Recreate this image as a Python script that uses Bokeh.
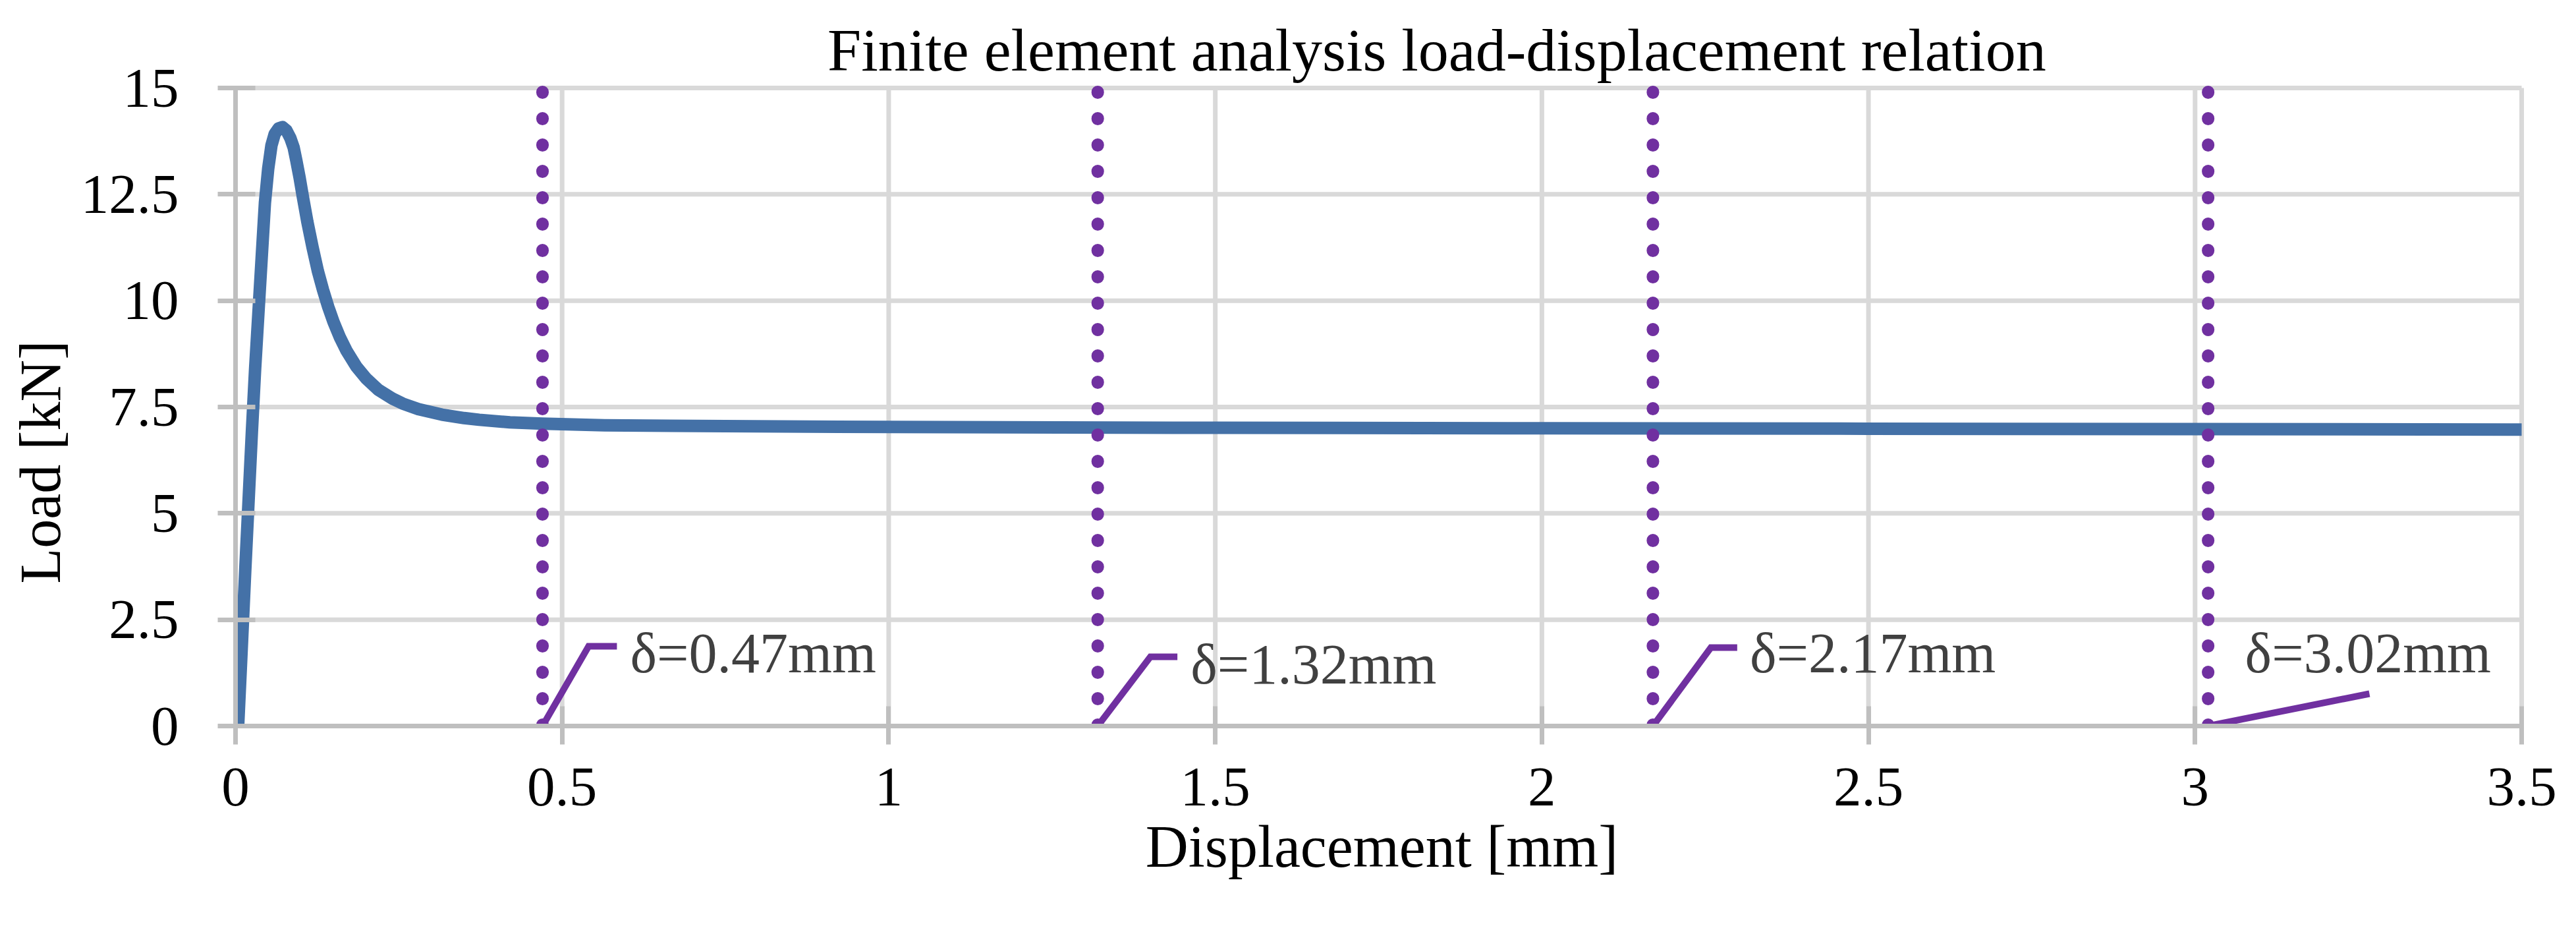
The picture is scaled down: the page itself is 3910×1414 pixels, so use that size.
from bokeh.plotting import figure
from bokeh.models import Range1d, FixedTicker, Label, Title, ColumnDataSource, NumeralTickFormatter
from bokeh.embed import file_html
from bokeh.resources import INLINE
from bokeh.core.properties import value

# ---------------- data ----------------
displacement = [0.004, 0.010, 0.015, 0.020, 0.025, 0.030, 0.035, 0.040, 0.045, 0.050,
                0.055, 0.060, 0.066, 0.072, 0.078, 0.084, 0.089, 0.093, 0.098, 0.103,
                0.110, 0.118, 0.126, 0.134, 0.142, 0.150, 0.160, 0.170, 0.185, 0.200,
                0.219, 0.240, 0.256, 0.280, 0.316, 0.350, 0.373, 0.420, 0.470, 0.565,
                0.750, 1.000, 1.500, 2.000, 2.500, 3.000, 3.500]
load = [0.0, 2.0, 3.7, 5.3, 6.9, 8.4, 9.7, 11.0, 12.3, 13.1,
        13.65, 13.92, 14.05, 14.08, 14.0, 13.82, 13.6, 13.3, 12.9, 12.45,
        11.85, 11.25, 10.7, 10.25, 9.85, 9.5, 9.13, 8.82, 8.45, 8.17,
        7.9, 7.7, 7.58, 7.45, 7.32, 7.24, 7.2, 7.14, 7.11, 7.07,
        7.05, 7.03, 7.01, 7.0, 6.99, 6.98, 6.97]

delta_values = [0.47, 1.32, 2.17, 3.02]
delta_labels = ["δ=0.47mm", "δ=1.32mm", "δ=2.17mm", "δ=3.02mm"]

x_ticks = [0, 0.5, 1, 1.5, 2, 2.5, 3, 3.5]
x_tick_labels = ["0", "0.5", "1", "1.5", "2", "2.5", "3", "3.5"]
y_ticks = [0, 2.5, 5, 7.5, 10, 12.5, 15]
y_tick_labels = ["0", "2.5", "5", "7.5", "10", "12.5", "15"]

title_text = "Finite element analysis load-displacement relation"
x_title = "Displacement [mm]"
y_title = "Load [kN]"

# ---------------- layout / style ----------------
X_MAX, Y_MAX = 3.5, 15
W, H = 3894, 1398
ML, MB = 355, 297
PLOT_W, PLOT_H = 3472, 968          # pixel size of the 0..3.5 x 0..15 data area
EXTRA_TOP, EXTRA_RIGHT = 123, 10     # frame extends beyond the data area (room for title)
MT = H - MB - PLOT_H - EXTRA_TOP
MR = W - ML - PLOT_W - EXTRA_RIGHT
PX_X = PLOT_W / X_MAX
PX_Y = PLOT_H / Y_MAX

BLUE = "#4471A7"
PURPLE = "#7030A0"
GRID = "#D9D9D9"
AXIS = "#BFBFBF"
FONT = "Liberation Serif"

TITLE_DX, TITLE_DY = 899, 1026      # title start / baseline, px from data-area origin

# label layout in pixels relative to (delta, 0): leader polyline points and text anchor
leader_px = [
    [(0, 0), (70, 121), (113, 121)],
    [(0, 0), (80, 105), (121, 105)],
    [(0, 0), (88, 119), (128, 119)],
    [(0, 0), (245, 49)],
]
text_dx = [133, 141, 147, 56]
text_dy = [-111, -94, -111, -111]

p = figure(width=W, height=H,
           x_range=Range1d(0, X_MAX + EXTRA_RIGHT / PX_X),
           y_range=Range1d(0, Y_MAX + EXTRA_TOP / PX_Y),
           output_backend="svg", toolbar_location=None,
           min_border_left=ML, min_border_right=MR, min_border_top=MT, min_border_bottom=MB)
p.outline_line_color = None
p.background_fill_color = "white"
p.border_fill_color = "white"
p.xgrid.visible = False
p.ygrid.visible = False

# grid lines (limited to the data area)
p.segment(x0=x_ticks, y0=[0] * len(x_ticks), x1=x_ticks, y1=[Y_MAX] * len(x_ticks),
          line_color=GRID, line_width=7)
p.segment(x0=[0] * len(y_ticks), y0=y_ticks, x1=[X_MAX] * len(y_ticks), y1=y_ticks,
          line_color=GRID, line_width=7)

title = Label(x=TITLE_DX / PX_X, y=TITLE_DY / PX_Y, text=title_text,
              text_font=FONT, text_font_size="92px", text_color="black",
              text_align="left", text_baseline="alphabetic")
p.add_layout(title)

ylab = Title(text=y_title, align="left", offset=216, standoff=20,
             text_font=FONT, text_font_size="88px", text_font_style="normal", text_color="black")
p.add_layout(ylab, "left")

for ax, ticks, labels, bnd in ((p.xaxis, x_ticks, x_tick_labels, (0, X_MAX)),
                               (p.yaxis, y_ticks, y_tick_labels, (0, Y_MAX))):
    ax.ticker = FixedTicker(ticks=ticks)
    ax.formatter = NumeralTickFormatter(format="0.[0]")
    ax.major_label_overrides = {t: l for t, l in zip(ticks, labels)}
    ax.bounds = bnd
    ax.axis_line_color = AXIS
    ax.axis_line_width = 7
    ax.major_tick_line_color = AXIS
    ax.major_tick_line_width = 7
    ax.major_tick_in = 30
    ax.major_tick_out = 28
    ax.minor_tick_line_color = None
    ax.major_label_text_font = FONT
    ax.major_label_text_font_size = "85px"
    ax.major_label_text_color = "black"

p.xaxis.major_label_standoff = 36
p.yaxis.major_label_standoff = 59
p.yaxis.major_tick_out = 27

p.xaxis.axis_label = x_title
p.xaxis.axis_label_text_font = FONT
p.xaxis.axis_label_text_font_size = "90px"
p.xaxis.axis_label_text_font_style = "normal"
p.xaxis.axis_label_text_color = "black"
p.xaxis.axis_label_standoff = 10

# main curve
p.line(displacement, load, line_width=19, line_color=BLUE, line_join="round")

# vertical dotted markers
p.segment(x0=delta_values, y0=[Y_MAX] * len(delta_values), x1=delta_values,
          y1=[0] * len(delta_values), line_width=19, line_color=PURPLE,
          line_dash="1 39", line_dash_offset=34, line_cap="round")

# leader lines
xs = [[d + dx / PX_X for dx, dy in pts] for d, pts in zip(delta_values, leader_px)]
ys = [[dy / PX_Y for dx, dy in pts] for d, pts in zip(delta_values, leader_px)]
p.multi_line(xs, ys, line_width=10, line_color=PURPLE, line_join="miter")

src = ColumnDataSource(dict(x=delta_values, y=[0] * len(delta_values), text=delta_labels,
                            dx=text_dx, dy=text_dy))
p.text(x="x", y="y", text="text", x_offset="dx", y_offset="dy", source=src,
       text_font=value(FONT), text_font_size="86px", text_color="#404040",
       text_align="left", text_baseline="alphabetic")

open("out.html", "w").write(file_html(p, INLINE))
